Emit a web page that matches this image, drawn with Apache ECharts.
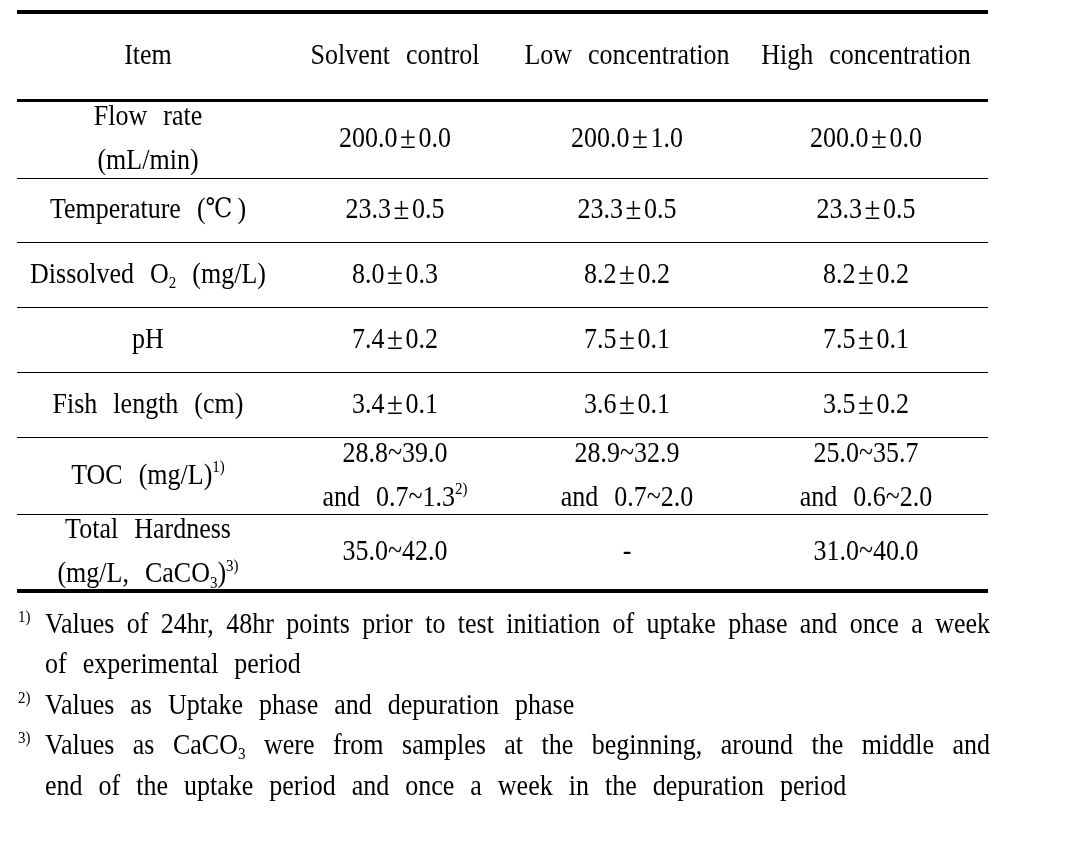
<!DOCTYPE html>
<html><head><meta charset="utf-8">
<script src="https://cdn.jsdelivr.net/npm/echarts@6/dist/echarts.min.js"></script>
<style>html,body{margin:0;padding:0;background:#fff}#chart{width:1076px;height:849px}</style>
</head><body><div id="chart"></div>
<script>
// ---------------- DATA ----------------
const columnHeaders = ["Item", "Solvent control", "Low concentration", "High concentration"];
const items = [["Flow rate", "(mL/min)"], ["Temperature (℃)"], ["Dissolved O_{2} (mg/L)"], ["pH"], ["Fish length (cm)"], ["TOC (mg/L)^{1)}"], ["Total Hardness", "(mg/L, CaCO_{3})^{3)}"]];
const solventControl = [["200.0±0.0"], ["23.3±0.5"], ["8.0±0.3"], ["7.4±0.2"], ["3.4±0.1"], ["28.8~39.0", "and 0.7~1.3^{2)}"], ["35.0~42.0"]];
const lowConcentration = [["200.0±1.0"], ["23.3±0.5"], ["8.2±0.2"], ["7.5±0.1"], ["3.6±0.1"], ["28.9~32.9", "and 0.7~2.0"], ["-"]];
const highConcentration = [["200.0±0.0"], ["23.3±0.5"], ["8.2±0.2"], ["7.5±0.1"], ["3.5±0.2"], ["25.0~35.7", "and 0.6~2.0"], ["31.0~40.0"]];
const footnoteMarks = ["1)", "2)", "3)"];
const footnoteLines = [
  ["Values of 24hr, 48hr points prior to test initiation of uptake phase and once a week", "of experimental period"],
  ["Values as Uptake phase and depuration phase"],
  ["Values as CaCO_{3} were from samples at the beginning, around the middle and", "end of the uptake period and once a week in the depuration period"]
];
const footnoteJustified = [[true, false], [false], [true, false]];

// ---------------- LAYOUT / STYLE ----------------
const SERIF = '"Liberation Serif", "DejaVu Serif", "Times New Roman", serif';
const SYM = '"DejaVu Serif", "Liberation Serif", serif';
const FS = 26, SUPFS = 15, WORD_GAP = 16, PMFS = 29, SCALE_Y = 1.12;
const layout = {
  tableLeft: 17, tableRight: 988,
  colX: [148, 395, 627, 866],
  rules: [{y: 12, w: 4}, {y: 100.5, w: 3}, {y: 178.5, w: 1}, {y: 242.5, w: 1}, {y: 307.5, w: 1},
          {y: 372.5, w: 1}, {y: 437.5, w: 1}, {y: 514.5, w: 1}, {y: 591, w: 4}],
  cellLineGap: 44,
  noteMarkX: 18, noteTextX: 45, noteRight: 990, noteY0: 625, noteStep: 40.5
};
const fonts = {
  n: {fontSize: FS, fontFamily: SERIF, pad: 0},
  pm: {fontSize: PMFS, fontFamily: SERIF, pad: 5},
  deg: {fontSize: FS - 2, fontFamily: SYM, pad: 5},
  sup: {fontSize: SUPFS, fontFamily: SERIF, pad: 0},
  sub: {fontSize: SUPFS, fontFamily: SERIF, pad: 0}
};

function parseWord(w) {
  const out = []; let buf = ''; let i = 0;
  const flush = () => { if (buf) { out.push({t: 'n', s: buf}); buf = ''; } };
  while (i < w.length) {
    const c = w[i];
    if ((c === '^' || c === '_') && w[i + 1] === '{') {
      flush(); const j = w.indexOf('}', i + 2);
      out.push({t: c === '^' ? 'sup' : 'sub', s: w.slice(i + 2, j)}); i = j + 1; continue;
    }
    if (c === '±') { flush(); out.push({t: 'pm', s: c}); i++; continue; }
    if (c === '℃') { flush(); out.push({t: 'deg', s: c}); i++; continue; }
    buf += c; i++;
  }
  flush(); return out;
}
const mctx = document.createElement('canvas').getContext('2d');
function measureWord(toks) {
  let w = 0;
  toks.forEach(t => { const f = fonts[t.t]; mctx.font = f.fontSize + 'px ' + f.fontFamily; w += mctx.measureText(t.s).width + f.pad; });
  return w;
}
function makeRich(gap) {
  return {
    n: {fontSize: FS, fontFamily: SERIF, lineHeight: 30, fill: '#000'},
    pm: {fontSize: PMFS, fontFamily: SERIF, lineHeight: 30, fill: '#000', padding: [0, 2.5, 0, 2.5]},
    deg: {fontSize: FS - 2, fontFamily: SYM, lineHeight: 30, fill: '#000', padding: [0, 5, 0, 0]},
    sup: {fontSize: SUPFS, fontFamily: SERIF, lineHeight: 17, verticalAlign: 'top', fill: '#000'},
    sub: {fontSize: SUPFS, fontFamily: SERIF, lineHeight: 19, verticalAlign: 'bottom', fill: '#000'},
    sp: {fontSize: FS, fontFamily: SERIF, lineHeight: 30, width: gap}
  };
}
function buildLine(line, justifyWidth) {
  const words = line.split(' ').map(parseWord);
  let gap = WORD_GAP;
  if (justifyWidth && words.length > 1) {
    const sum = words.reduce((a, w) => a + measureWord(w), 0);
    gap = (justifyWidth - sum) / (words.length - 1);
  }
  const text = words.map(w => w.map(t => '{' + t.t + '|' + t.s + '}').join('')).join('{sp| }');
  return {text, rich: makeRich(gap)};
}

// cells: header row 0, body rows 1..7
const bodyColumns = [items, solventControl, lowConcentration, highConcentration];
const cells = [];
columnHeaders.forEach((h, c) => cells.push({col: c, row: 0, lines: [h]}));
items.forEach((_, r) => bodyColumns.forEach((col, c) => cells.push({col: c, row: r + 1, lines: col[r]})));

const notes = [];
footnoteLines.forEach((ls, k) => ls.forEach((l, j) => notes.push({note: k, first: j === 0, text: l, justify: footnoteJustified[k][j]})));

function rowCenter(r) { return (layout.rules[r].y + layout.rules[r + 1].y) / 2; }

const chart = echarts.init(document.getElementById('chart'), null, {renderer: 'canvas'});
chart.setOption({
  animation: false,
  backgroundColor: '#fff',
  grid: {left: 0, right: 0, top: 0, bottom: 0},
  xAxis: {type: 'value', min: 0, max: 1076, show: false},
  yAxis: {type: 'value', min: 0, max: 849, inverse: true, show: false},
  series: [
    {
      type: 'custom', clip: false, silent: true,
      data: layout.rules.map((r, i) => [i, r.y]),
      renderItem: (params, api) => {
        const r = layout.rules[params.dataIndex];
        const p0 = api.coord([layout.tableLeft, r.y - r.w / 2]);
        const p1 = api.coord([layout.tableRight, r.y + r.w / 2]);
        return {type: 'rect', shape: {x: p0[0], y: p0[1], width: p1[0] - p0[0], height: p1[1] - p0[1]}, style: {fill: '#000'}};
      }
    },
    {
      type: 'custom', clip: false, silent: true,
      data: cells.map(c => [c.col, c.row]),
      renderItem: (params, api) => {
        const cell = cells[params.dataIndex];
        const cy = rowCenter(cell.row);
        const n = cell.lines.length;
        const children = cell.lines.map((ln, i) => {
          const b = buildLine(ln, 0);
          const p = api.coord([layout.colX[cell.col], cy + (i - (n - 1) / 2) * layout.cellLineGap]);
          return {type: 'text', x: p[0], y: p[1], scaleY: SCALE_Y, style: {text: b.text, rich: b.rich, align: 'center', verticalAlign: 'middle', fill: '#000'}};
        });
        return {type: 'group', children};
      }
    },
    {
      type: 'custom', clip: false, silent: true,
      data: notes.map((n, i) => [n.note, i]),
      renderItem: (params, api) => {
        const i = params.dataIndex, nt = notes[i];
        const y = layout.noteY0 + i * layout.noteStep;
        const b = buildLine(nt.text, nt.justify ? layout.noteRight - layout.noteTextX : 0);
        const p = api.coord([layout.noteTextX, y]);
        const children = [{type: 'text', x: p[0], y: p[1], scaleY: SCALE_Y, style: {text: b.text, rich: b.rich, align: 'left', verticalAlign: 'middle', fill: '#000'}}];
        if (nt.first) {
          const pm = api.coord([layout.noteMarkX, y - 16]);
          children.push({type: 'text', x: pm[0], y: pm[1], scaleY: SCALE_Y, style: {text: footnoteMarks[nt.note], fontSize: SUPFS, fontFamily: SERIF, fill: '#000', align: 'left', verticalAlign: 'top'}});
        }
        return {type: 'group', children};
      }
    }
  ]
});
</script></body></html>
